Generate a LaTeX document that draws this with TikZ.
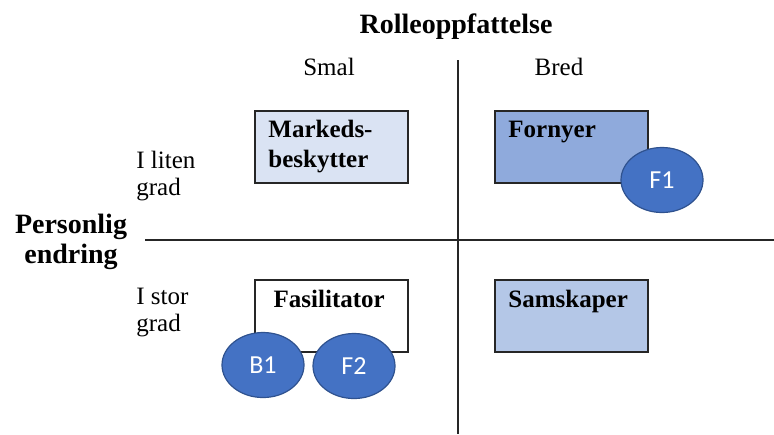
\documentclass[tikz,border=0pt]{standalone}
\usepackage{fontspec}
\setmainfont{Liberation Serif}
\newfontfamily\calibfont{Carlito}
\usepackage{tikz}
\usetikzlibrary{positioning, calc, shapes.geometric}
\usepackage{xcolor}
\definecolor{palebox}{HTML}{DAE3F3}
\definecolor{midbox}{HTML}{B4C7E7}
\definecolor{darkbox}{HTML}{8FAADC}
\definecolor{ellblue}{HTML}{4472C4}
\definecolor{ellrim}{HTML}{2F528F}

\begin{document}
\begin{tikzpicture}[x=0.5pt, y=-0.5pt,
        rolebox/.style={draw=black!85, line width=0.75pt, minimum width=76.5pt, minimum height=36pt, anchor=north west, inner sep=0pt},
        roletext/.style={font=\fontsize{12.5}{15}\selectfont\bfseries, align=left, anchor=base west, inner sep=0pt},
        axtext/.style={font=\fontsize{12.5}{13.5}\selectfont, align=left, anchor=base west, inner sep=0pt},
        headtext/.style={font=\fontsize{14}{15}\selectfont\bfseries, align=center, anchor=base, inner sep=0pt},
        person/.style={ellipse, draw=ellrim, line width=0.6pt, fill=ellblue, text=white, minimum width=41pt, minimum height=32.5pt, inner sep=0pt, font=\calibfont\fontsize{13}{15}\selectfont}
      ]
      \useasboundingbox (0,0) rectangle (774,434);
      % axes
      \coordinate (hl) at (145,240);
      \coordinate (hr) at (774,240);
      \coordinate (vt) at (458,60);
      \coordinate (vb) at (458,434);
      \draw[black!85, line width=1pt] (hl) -- (hr);
      \draw[black!85, line width=1pt] (vt) -- (vb);
      % headings (multi-line nodes sit on their last line)
      \node[headtext] (rolle) at (456,33) {Rolleoppfattelse};
      \node[headtext] (pers) at (71,263) {Personlig\\endring};
      \node[axtext, anchor=base] (smal) at (329,75) {Smal};
      \node[axtext, anchor=base] (bred) at (559,75) {Bred};
      \node[axtext] (liten) at (136,195) {I liten\\grad};
      \node[axtext] (stor) at (136,331) {I stor\\grad};
      % roles
      \node[rolebox, fill=palebox] (mb) at (254,110) {};
      \node[rolebox, fill=darkbox] (fo) at (494,110) {};
      \node[rolebox, fill=white]   (fa) at (254,279) {};
      \node[rolebox, fill=midbox]  (sa) at (494,279) {};
      \node[roletext] (mbt) at ($(mb.north west)+(14,57)$) {Markeds-\\beskytter};
      \node[roletext] (fot) at ($(fo.north west)+(14,27)$) {Fornyer};
      \node[roletext, anchor=base] (fat) at ($(fa.north)+(-2,28)$) {Fasilitator};
      \node[roletext] (sat) at ($(sa.north west)+(14,28)$) {Samskaper};
      % persons
      \node[person] (F1) at (662,180) {F1};
      \node[person] (B1) at (263,365) {B1};
      \node[person] (F2) at (354,366) {F2};
    \end{tikzpicture}
\end{document}
